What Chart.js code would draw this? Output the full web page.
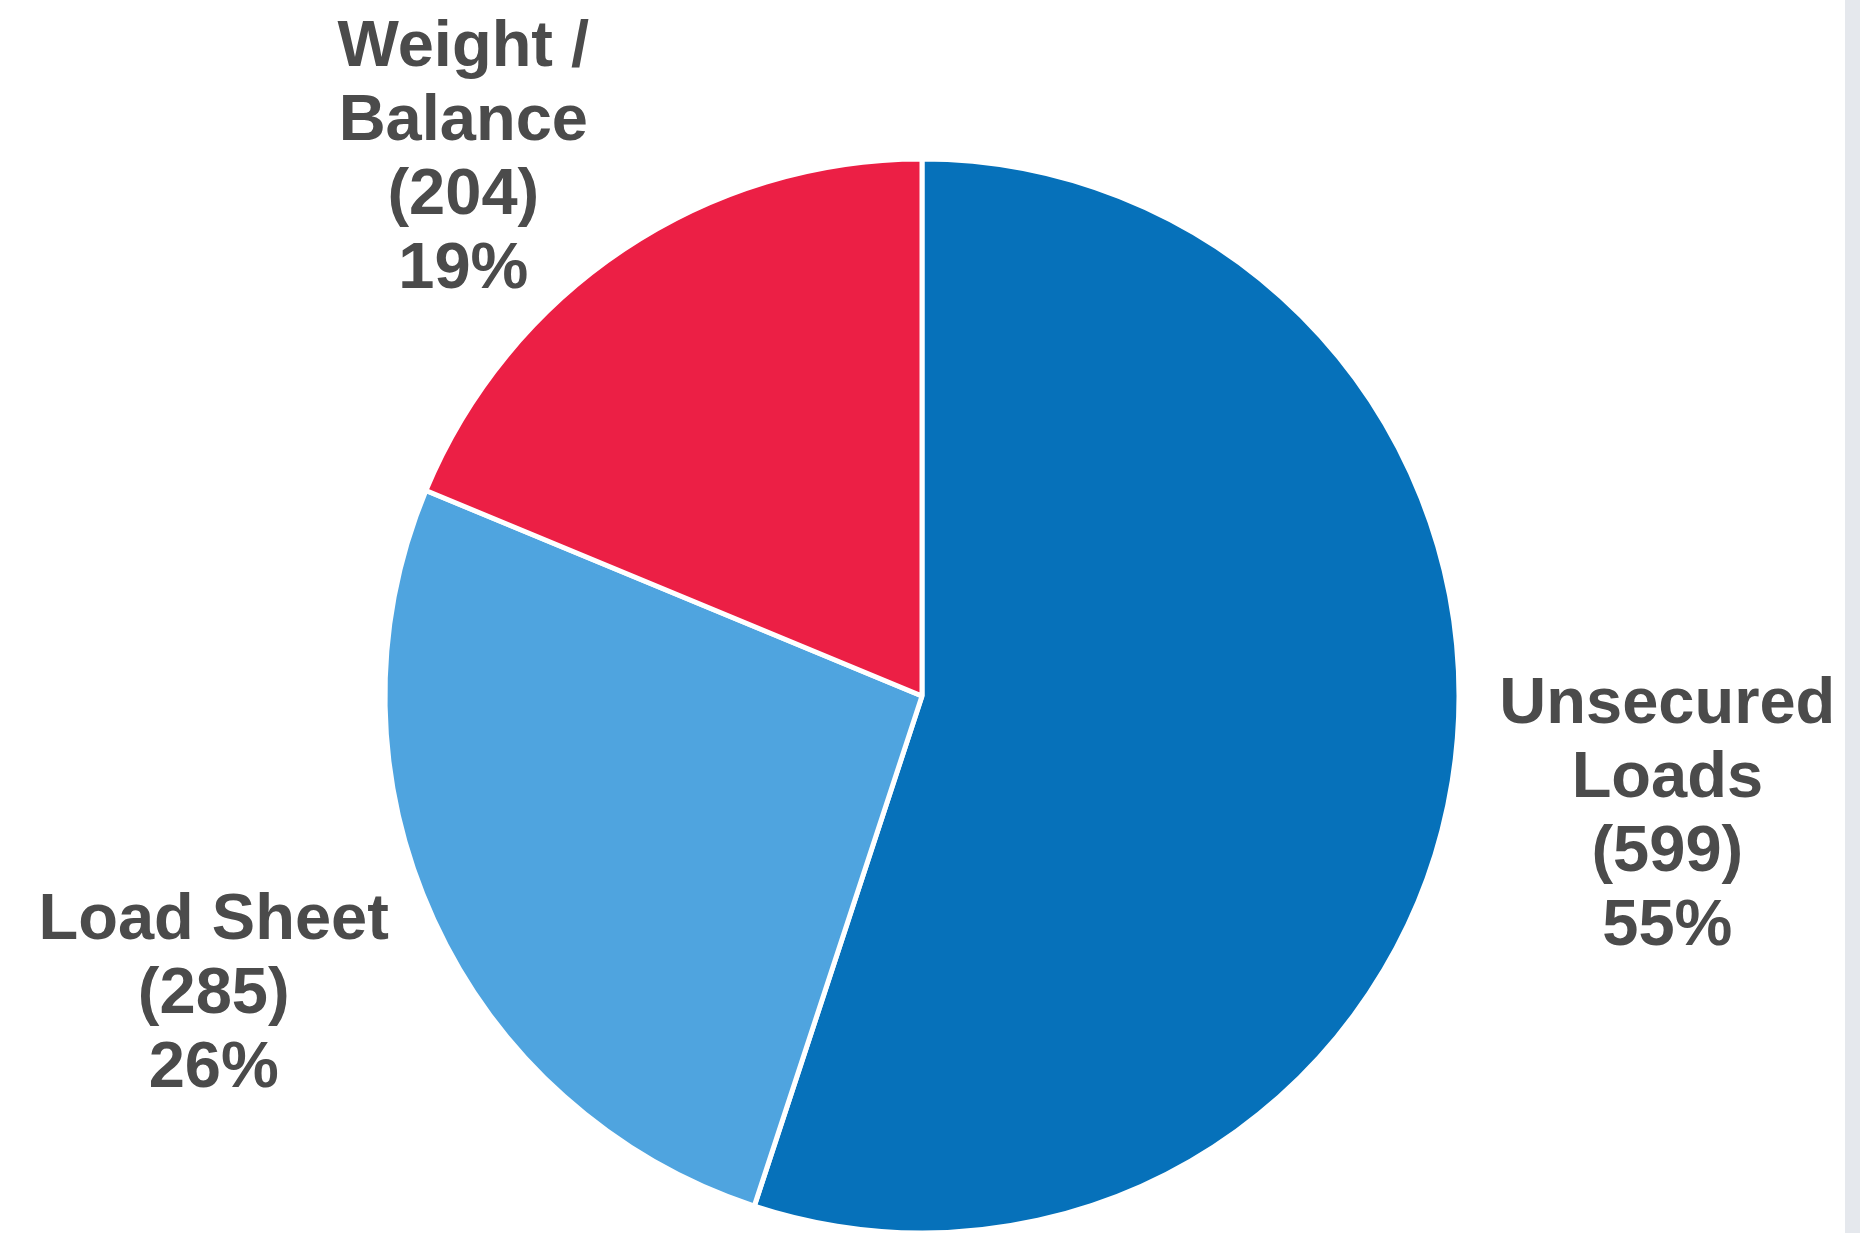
<!DOCTYPE html>
<html>
<head>
<meta charset="utf-8">
<script src="https://cdn.jsdelivr.net/npm/chart.js@4.4.1/dist/chart.umd.min.js"></script>
<style>
  html, body { margin: 0; padding: 0; background: #ffffff; }
  #wrap { position: absolute; left: 0; top: 0; width: 1845px; height: 1233px; }
  #strip { position: absolute; left: 1845px; top: 0; width: 15px; height: 1233px; background: #e5e8ed; }
</style>
</head>
<body>
<div id="wrap"><canvas id="pieChart"></canvas></div>
<div id="strip"></div>
<script>
// dati del grafico
const categories = ['Unsecured Loads', 'Load Sheet', 'Weight / Balance'];
const labelLines = [['Unsecured', 'Loads'], ['Load Sheet'], ['Weight /', 'Balance']];
const counts = [599, 285, 204];
const percents = ['55%', '26%', '19%'];
const sliceColors = ['#0671ba', '#4fa4df', '#ec1f45'];

// spostamento delle etichette rispetto alla posizione radiale
const labelNudge = [[3, 1], [-25, -14], [-41, 88]];

const outsideLabels = {
    id: 'outsideLabels',
    afterDatasetsDraw(chart) {
        const ctx = chart.ctx;
        const meta = chart.getDatasetMeta(0);
        ctx.save();
        ctx.font = 'bold 65px "Liberation Sans", Arial, sans-serif';
        ctx.fillStyle = '#4b4b4b';
        ctx.textAlign = 'center';
        ctx.textBaseline = 'middle';
        meta.data.forEach((arc, i) => {
            const mid = (arc.startAngle + arc.endAngle) / 2;
            const dist = arc.outerRadius * 1.4;
            const cx = arc.x + Math.cos(mid) * dist + labelNudge[i][0];
            const cy = arc.y + Math.sin(mid) * dist + labelNudge[i][1];
            const lines = labelLines[i].concat(['(' + counts[i] + ')', percents[i]]);
            const lh = 74;
            const top = cy - (lines.length - 1) * lh / 2;
            lines.forEach((t, k) => ctx.fillText(t, cx, top + k * lh));
        });
        ctx.restore();
    }
};

const ctx = document.getElementById('pieChart').getContext('2d');
const pieChart = new Chart(ctx, {
    type: 'pie',
    data: {
        labels: categories,
        datasets: [{
            data: counts,
            backgroundColor: sliceColors,
            borderColor: '#ffffff',
            borderWidth: 5,
            hoverBorderWidth: 5,
            hoverOffset: 0
        }]
    },
    options: {
        animation: false,
        responsive: true,
        maintainAspectRatio: false,
        radius: 537,
        layout: { padding: { top: 163, bottom: 4, left: 0, right: 1 } },
        plugins: {
            legend: { display: false },
            tooltip: { enabled: false }
        }
    },
    plugins: [outsideLabels]
});
</script>
</body>
</html>
